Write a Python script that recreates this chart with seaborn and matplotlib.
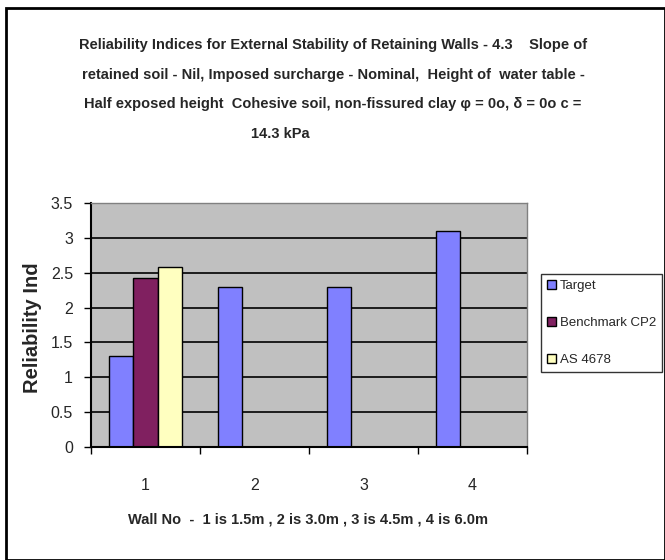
import matplotlib
matplotlib.use("Agg")
import matplotlib.pyplot as plt
from matplotlib import font_manager
import seaborn as sns
import pandas as pd
import numpy as np

walls = ["1", "2", "3", "4"]
series = ["Target", "Benchmark CP2", "AS 4678"]
target = [1.3, 2.3, 2.3, 3.1]
benchmark = [2.42, np.nan, np.nan, np.nan]
as4678 = [2.58, np.nan, np.nan, np.nan]
colors = ["#8080FF", "#802060", "#FFFFC0"]
y_ticks = [0, 0.5, 1, 1.5, 2, 2.5, 3, 3.5]
y_tick_labels = ["0", "0.5", "1", "1.5", "2", "2.5", "3", "3.5"]
title_lines = [
    "Reliability Indices for External Stability of Retaining Walls - 4.3    Slope of",
    "retained soil - Nil, Imposed surcharge - Nominal,  Height of  water table -",
    "Half exposed height  Cohesive soil, non-fissured clay \u03c6 = 0o, \u03b4 = 0o c =",
    "14.3 kPa",
]
x_label = "Wall No  -  1 is 1.5m , 2 is 3.0m , 3 is 4.5m , 4 is 6.0m"
y_label = "Reliability Ind"

sns.set_theme(style="white")
names = {f.name for f in font_manager.fontManager.ttflist}
narrow = "Liberation Sans Narrow" if "Liberation Sans Narrow" in names else "Liberation Sans"
plt.rcParams["font.family"] = [narrow, "DejaVu Sans"]

rows = []
for s, vals in zip(series, [target, benchmark, as4678]):
    for w, v in zip(walls, vals):
        rows.append({"wall": w, "series": s, "value": v})
df = pd.DataFrame(rows)

fig = plt.figure(figsize=(6.65, 5.6), dpi=100)
ax = fig.add_axes([91/665, 1-447/560, (527-91)/665, (447-203)/560])
ax.set_facecolor("#C0C0C0")

sns.barplot(data=df, x="wall", y="value", hue="series", hue_order=series,
            order=walls, palette=colors, width=0.67, edgecolor="black",
            linewidth=1.0, ax=ax, legend=True, saturation=1)

ax.set_ylim(0, 3.5)
ax.set_xlim(-0.5, 3.5)
ax.set_yticks(y_ticks)
ax.set_yticklabels(y_tick_labels, fontsize=11.5)
ax.yaxis.grid(True, color="black", linewidth=1.2)
ax.set_axisbelow(True)
ax.tick_params(axis="y", direction="out", length=5, width=1, color="black", pad=8, left=True)

ax.set_xticks([-0.5, 0.5, 1.5, 2.5, 3.5])
ax.set_xticklabels([])
ax.set_xticks([0, 1, 2, 3], minor=True)
ax.set_xticklabels(walls, minor=True, fontsize=11.5)
ax.tick_params(axis="x", which="major", direction="out", length=5, width=1, color="black", bottom=True)
ax.tick_params(axis="x", which="minor", length=0, pad=22)

for s in ["left", "bottom"]:
    ax.spines[s].set_color("black")
    ax.spines[s].set_linewidth(1.5)
for s in ["top", "right"]:
    ax.spines[s].set_color("#808080")
    ax.spines[s].set_linewidth(1.0)

ax.set_xlabel("")
ax.set_ylabel("")

leg = ax.legend(loc="center left", bbox_to_anchor=(541/665, 1-323/560),
                bbox_transform=fig.transFigure, frameon=True, fancybox=False,
                edgecolor="black", fontsize=9.5, handlelength=0.7, handleheight=0.7,
                handletextpad=0.3, labelspacing=1.9, borderpad=0.45, borderaxespad=0,
                title=None)
leg.get_frame().set_linewidth(1.0)
for h in leg.legend_handles:
    h.set_edgecolor("black")
    h.set_linewidth(1.0)

for i, line in enumerate(title_lines):
    fig.text(333/665 if i < 3 else 280/665, 1-(45+29.5*i)/560, line,
             ha="center", va="center", fontsize=10.5, fontweight="bold")

fig.text(308/665, 1-520/560, x_label, ha="center", va="center",
         fontsize=10.5, fontweight="bold")
fig.text(33/665, 1-393/560, y_label, rotation=90, ha="center", va="bottom",
         fontsize=14.5, fontweight="bold", family=["Liberation Sans", "DejaVu Sans"])

border = plt.Rectangle((6/665, 0.0), 1-6/665, 1-8/560, transform=fig.transFigure,
                       fill=False, edgecolor="black", linewidth=2)
fig.patches.append(border)

fig.savefig("out.png", dpi=100)
